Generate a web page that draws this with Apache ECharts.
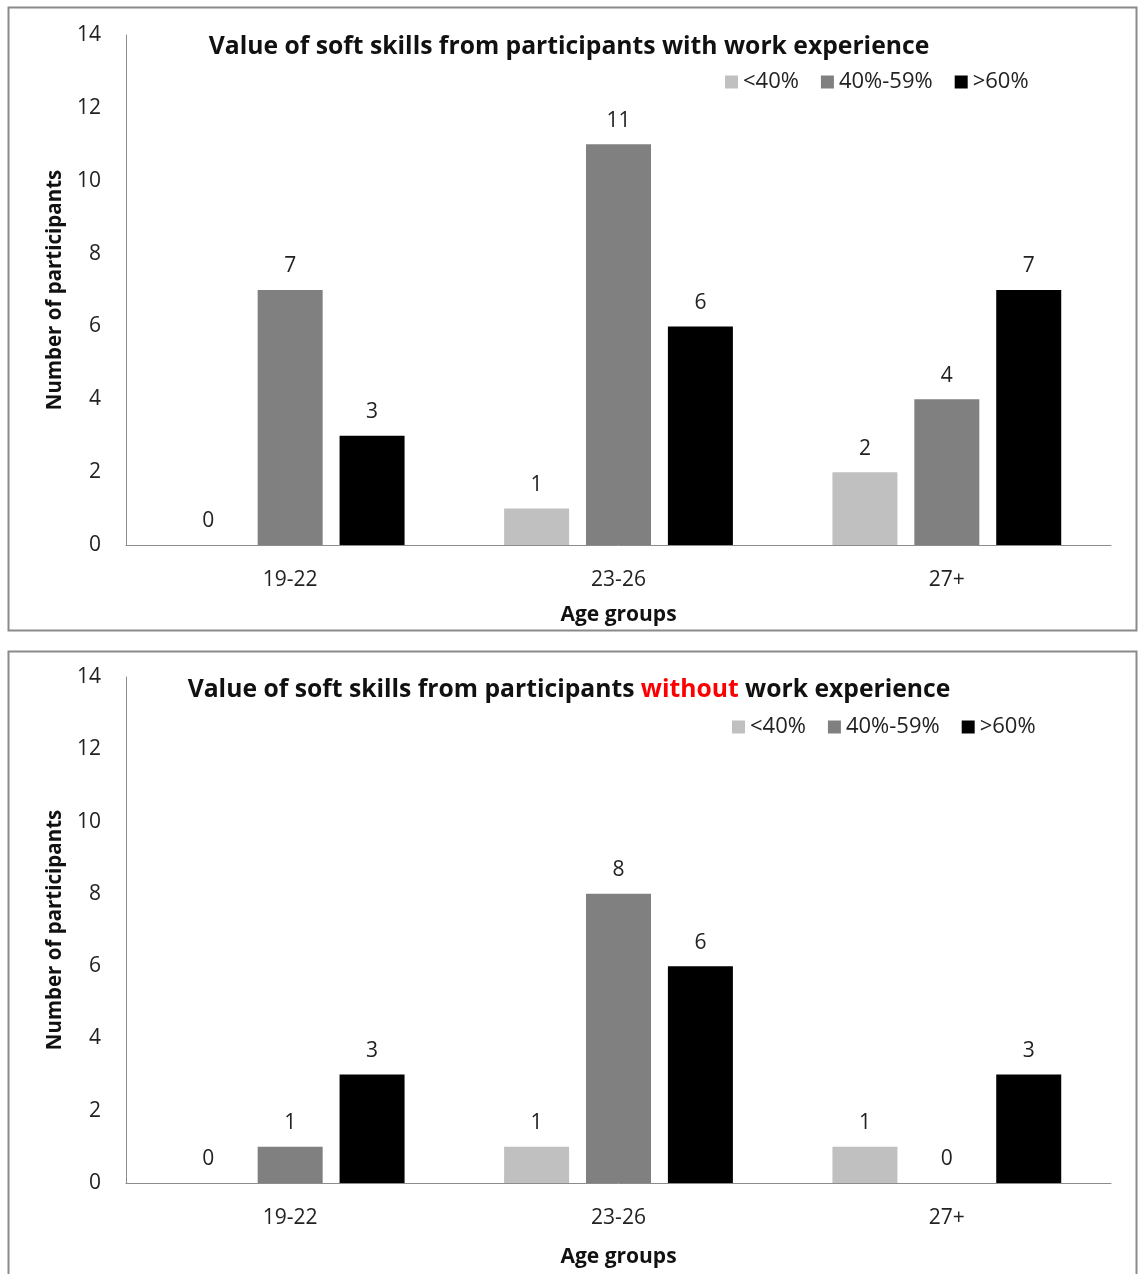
<!DOCTYPE html>
<html><head><meta charset="utf-8">
<script src="https://cdn.jsdelivr.net/npm/echarts@6/dist/echarts.min.js"></script>
<style>html,body{margin:0;padding:0;background:#fff}#c{width:1138px;height:1274px}</style>
</head><body><div id="c"></div>
<script>
const categories = ['19-22', '23-26', '27+'];
const seriesNames = ['<40%', '40%-59%', '>60%'];
const withExp = {
  low: [0, 1, 2],
  mid: [7, 11, 4],
  high: [3, 6, 7]
};
const withoutExp = {
  low: [0, 1, 1],
  mid: [1, 8, 0],
  high: [3, 6, 3]
};
const yTicks = [0, 2, 4, 6, 8, 10, 12, 14];
const colors = ['#c0c0c0', '#808080', '#000000'];
const FONT = 'Open Sans';

const chart = echarts.init(document.getElementById('c'), null, {renderer: 'canvas'});

function xAxis(gi, nameGap) {
  return {
    type: 'category', gridIndex: gi, data: categories,
    axisLine: {lineStyle: {color: '#8c8c8c', width: 1}},
    axisTick: {show: false},
    axisLabel: {color: '#222', fontSize: 21, fontFamily: FONT, margin: 25},
    name: 'Age groups', nameLocation: 'middle', nameGap: nameGap,
    nameTextStyle: {color: '#111', fontSize: 21, fontWeight: 'bold', fontFamily: FONT}
  };
}
function yAxis(gi) {
  return {
    type: 'value', gridIndex: gi, min: 0, max: 14, interval: 2,
    axisLine: {show: true, lineStyle: {color: '#8c8c8c', width: 1}},
    axisTick: {show: false},
    splitLine: {show: false},
    axisLabel: {color: '#222', fontSize: 21, fontFamily: FONT, margin: 25},
    name: 'Number of participants', nameLocation: 'middle', nameGap: 56,
    nameTextStyle: {color: '#111', fontSize: 20.5, fontWeight: 'bold', fontFamily: FONT}
  };
}
function bars(data, gi) {
  const arr = [data.low, data.mid, data.high];
  return arr.map((d, i) => ({
    name: seriesNames[i], type: 'bar', xAxisIndex: gi, yAxisIndex: gi,
    data: d, barWidth: 65, barGap: '26%',
    itemStyle: {color: colors[i]},
    label: {show: true, position: 'top', distance: 13, color: '#222', fontSize: 21, fontFamily: FONT},
    animation: false
  }));
}
function legend(top, left) {
  return {
    data: seriesNames, top: top, left: left, itemWidth: 13, itemHeight: 13, itemGap: 22,
    icon: 'rect', selectedMode: false,
    textStyle: {color: '#222', fontSize: 22, fontFamily: FONT}
  };
}

chart.setOption({
  animation: false,
  textStyle: {fontFamily: FONT},
  graphic: [
    {type: 'rect', shape: {x: 8.5, y: 7.5, width: 1128, height: 623}, style: {fill: 'none', stroke: '#8a8a8a', lineWidth: 2}},
    {type: 'rect', shape: {x: 8.5, y: 651.5, width: 1128, height: 640}, style: {fill: 'none', stroke: '#8a8a8a', lineWidth: 2}}
  ],
  title: [
    {text: 'Value of soft skills from participants with work experience', left: 'center', top: 29,
     textStyle: {color: '#111', fontSize: 24.7, fontWeight: 'bold', fontFamily: FONT}},
    {text: '{a|Value of soft skills from participants }{r|without}{a| work experience}', left: 'center', top: 672,
     textStyle: {rich: {
       a: {color: '#111', fontSize: 24.7, fontWeight: 'bold', fontFamily: FONT},
       r: {color: '#ff0000', fontSize: 24.7, fontWeight: 'bold', fontFamily: FONT}
     }}}
  ],
  legend: [legend(66, 720), legend(711, 727)],
  grid: [
    {left: 126, top: 35, width: 985, height: 510},
    {left: 126, top: 677, width: 985, height: 506}
  ],
  xAxis: [xAxis(0, 60), xAxis(1, 64)],
  yAxis: [yAxis(0), yAxis(1)],
  series: [...bars(withExp, 0), ...bars(withoutExp, 1)]
});
</script></body></html>
